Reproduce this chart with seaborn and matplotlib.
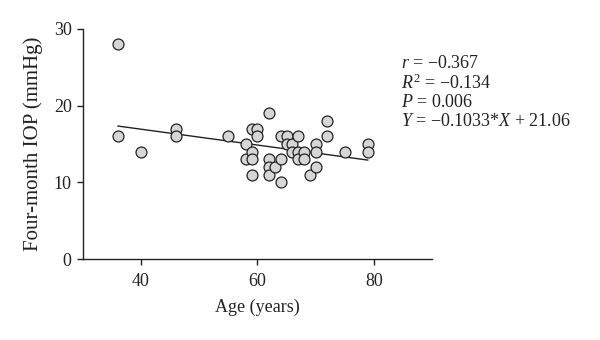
import matplotlib
matplotlib.use("Agg")
import matplotlib.pyplot as plt
import seaborn as sns
import numpy as np
import pandas as pd

age = [36, 36, 40, 46, 46, 55, 58, 58, 59, 59, 59, 59, 60, 60, 62, 62, 62, 62,
       63, 64, 64, 64, 65, 65, 66, 66, 67, 67, 67, 68, 68, 69, 70, 70, 70, 72,
       72, 75, 79, 79]
iop = [28, 16, 14, 17, 16, 16, 15, 13, 17, 14, 13, 11, 17, 16, 19, 13, 12, 11,
       12, 13, 10, 16, 16, 15, 15, 14, 16, 14, 13, 14, 13, 11, 15, 14, 12, 18,
       16, 14, 15, 14]
slope = -0.1033
intercept = 21.06
stats_lines = [r"$r$ = −0.367", r"$R^2$ = −0.134", r"$P$ = 0.006",
               r"$Y$ = −0.1033*$X$ + 21.06"]
x_ticks = [40, 60, 80]
y_ticks = [0, 10, 20, 30]

sns.set_theme(style="ticks")
plt.rcParams['font.family'] = ['Liberation Serif', 'DejaVu Serif']
plt.rcParams['mathtext.fontset'] = 'custom'
plt.rcParams['mathtext.rm'] = 'Liberation Serif'
plt.rcParams['mathtext.it'] = 'Liberation Serif:italic'

df = pd.DataFrame({"age": age, "iop": iop})
fit_x = np.array([min(age), max(age)])
fit = pd.DataFrame({"x": fit_x, "y": slope * fit_x + intercept})

fig = plt.figure(figsize=(6, 3.4), dpi=100)
ax = fig.add_axes([0.138, 0.238, 0.582, 0.677])

sns.lineplot(data=fit, x="x", y="y", ax=ax, color="#222222", linewidth=1.0, zorder=2)
sns.scatterplot(data=df, x="age", y="iop", ax=ax, s=62, color="#d6d6d6",
                edgecolor="#222222", linewidth=0.9, zorder=3)

ax.set_xlim(30, 90)
ax.set_ylim(0, 30)
ax.set_xticks(x_ticks)
ax.set_yticks(y_ticks)
ax.tick_params(labelsize=13, colors="#222222", length=4, width=1)
ax.tick_params(axis="x", pad=6)
ax.tick_params(axis="y", pad=4)
ax.set_xlabel("Age (years)", fontsize=13, color="#222222", labelpad=6)
ax.set_ylabel("Four-month IOP (mmHg)", fontsize=15, color="#222222", labelpad=8)
for s in ["top", "right"]:
    ax.spines[s].set_visible(False)
for s in ["left", "bottom"]:
    ax.spines[s].set_color("#222222")
    ax.spines[s].set_linewidth(1)

ys = [63, 83, 102, 121]
for t, y in zip(stats_lines, ys):
    fig.text(401 / 600, 1 - y / 340, t, fontsize=13, color="#222222", va="center", ha="left")

fig.savefig("out.png", dpi=100)
